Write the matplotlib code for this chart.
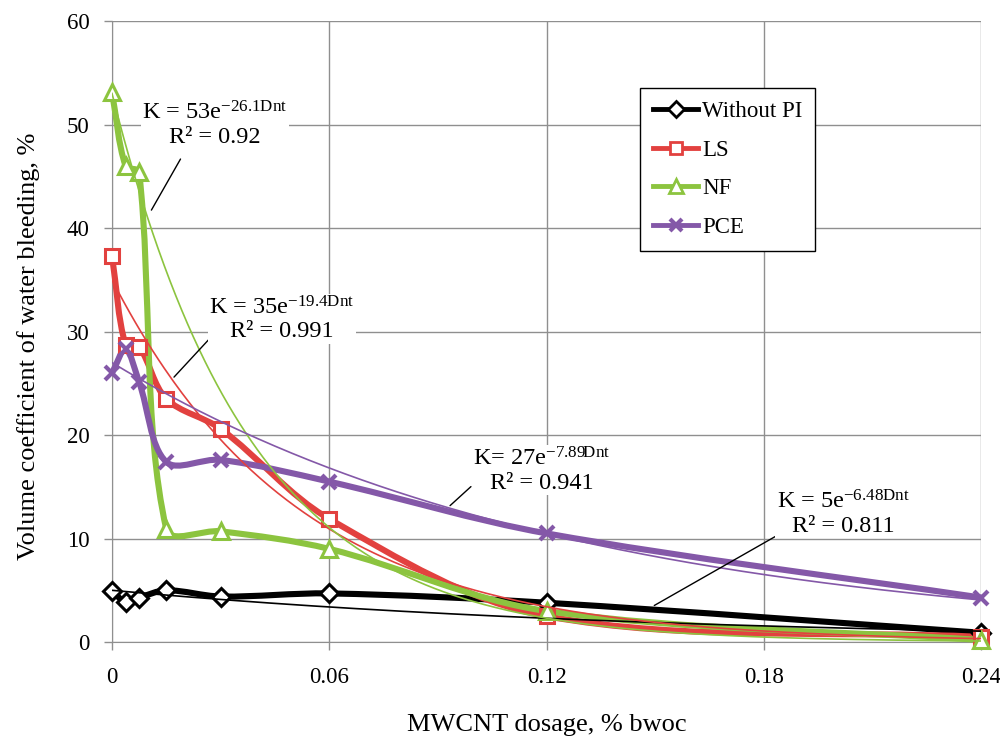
import numpy as np
import matplotlib
matplotlib.use("Agg")
import matplotlib.pyplot as plt
from matplotlib.path import Path
from matplotlib.patches import PathPatch
from matplotlib.lines import Line2D

# ── data ────────────────────────────────────────────────────────────────────
dosage = [0, 0.00375, 0.0075, 0.015, 0.03, 0.06, 0.12, 0.24]
without_pi = [4.9, 3.9, 4.3, 5.0, 4.4, 4.7, 3.8, 0.9]
ls_vals = [37.3, 28.7, 28.5, 23.5, 20.6, 11.9, 2.5, 0.5]
nf_vals = [53.1, 46.0, 45.4, 10.9, 10.7, 9.0, 3.0, 0.2]
pce_vals = [26.0, 28.3, 25.1, 17.4, 17.6, 15.5, 10.5, 4.3]

series_names = ["Without PI", "LS", "NF", "PCE"]

# exponential trend lines K = a * exp(b * Dnt)
trend_a = [5, 35, 53, 27]
trend_b = [-6.48, -19.4, -26.1, -7.89]
trend_r2 = ["0.811", "0.991", "0.92", "0.941"]

xticks = [0, 0.06, 0.12, 0.18, 0.24]
xtick_labels = ["0", "0.06", "0.12", "0.18", "0.24"]
yticks = [0, 10, 20, 30, 40, 50, 60]

colors = ["#000000", "#E2413F", "#8CC43F", "#8458A8"]
markers = ["D", "s", "^", "x"]
msizes = [9, 10, 11, 10]

plt.rcParams["font.family"] = ["Liberation Serif", "DejaVu Serif"]
plt.rcParams["mathtext.fontset"] = "custom"
plt.rcParams["mathtext.rm"] = "Liberation Serif"
plt.rcParams["mathtext.it"] = "Liberation Serif:italic"
FS = 16.5        # ticks, legend
FS_TITLE = 19    # axis titles
FS_NOTE = 17.5   # trend labels
GRID = "#8f8f8f"


def excel_smooth(ax, xs, ys):
    """Bezier path through the points, built in screen space like Excel's smoothed line."""
    pts = ax.transData.transform(np.column_stack([xs, ys]))
    n = len(pts)
    verts, codes = [pts[0]], [Path.MOVETO]
    for i in range(n - 1):
        p0, p1 = pts[max(i - 1, 0)], pts[i]
        p2, p3 = pts[i + 1], pts[min(i + 2, n - 1)]
        d01 = np.hypot(*(p1 - p0))
        d12 = np.hypot(*(p2 - p1))
        d23 = np.hypot(*(p3 - p2))
        c1 = p1 + (p2 - p0) * d12 / max(d01 + d12, 1e-9) / 3
        c2 = p2 - (p3 - p1) * d12 / max(d12 + d23, 1e-9) / 3
        verts += [c1, c2, p2]
        codes += [Path.CURVE4] * 3
    return Path(ax.transData.inverted().transform(np.array(verts)), codes)


fig = plt.figure(figsize=(10, 7.38), dpi=100)
ax = fig.add_axes([0.112, 0.130, 0.869, 0.8415])
ax.set_xlim(0, 0.24)
ax.set_ylim(0, 60)

all_series = [without_pi, ls_vals, nf_vals, pce_vals]

# thick smoothed data lines + open markers
for vals, col, mk, ms in zip(all_series, colors, markers, msizes):
    ax.add_patch(PathPatch(excel_smooth(ax, dosage, vals), facecolor="none",
                           edgecolor=col, lw=4.4, capstyle="round",
                           joinstyle="round", zorder=3, clip_on=False))
    ax.plot(dosage, vals, ls="none", marker=mk, ms=ms, mfc="white", mec=col,
            mew=3 if mk == "x" else 2.2, zorder=4, clip_on=False)

# thin exponential trend lines
xf = np.linspace(0, 0.24, 300)
for a, b, col in zip(trend_a, trend_b, colors):
    ax.plot(xf, a * np.exp(b * xf), color=col, lw=1.2, zorder=5)

# trend labels + leader lines
labels = [
    (r"K = 5e$^{\mathregular{-6.48Dnt}}$", (0.2020, 12.4), (0.1847, 10.5), (0.1491, 3.4)),
    (r"K = 35e$^{\mathregular{-19.4Dnt}}$", (0.0469, 31.2), (0.0293, 30.2), (0.0166, 25.4)),
    (r"K = 53e$^{\mathregular{-26.1Dnt}}$", (0.0284, 50.0), (0.0193, 46.9), (0.0105, 41.5)),
    (r"K= 27e$^{\mathregular{-7.89Dnt}}$", (0.1187, 16.6), (0.0997, 15.2), (0.0928, 13.0)),
]
for (txt, pos, start, end), r2 in zip(labels, trend_r2):
    ax.annotate("", xy=end, xytext=start,
                arrowprops=dict(arrowstyle="-", color="black", lw=1.0), zorder=6)
    ax.text(pos[0], pos[1], txt + "\n" + "R\u00b2 = " + r2, ha="center", va="center",
            fontsize=FS_NOTE, linespacing=1.15, zorder=7, multialignment="center",
            bbox=dict(facecolor="white", edgecolor="none", pad=1))

# axes styling
ax.set_xticks(xticks)
ax.set_xticklabels(xtick_labels)
ax.set_yticks(yticks)
ax.grid(True, color=GRID, lw=1.0, zorder=0)
ax.set_axisbelow(True)
for side in ["top", "right"]:
    ax.spines[side].set_visible(False)
for side in ["left", "bottom"]:
    ax.spines[side].set_color(GRID)
ax.tick_params(axis="both", colors=GRID, length=6, width=1.0, labelsize=FS,
               labelcolor="black")
ax.tick_params(axis="x", pad=12)
ax.tick_params(axis="y", pad=10)
ax.set_xlabel("MWCNT dosage, % bwoc", fontsize=FS_TITLE, va="center")
ax.set_ylabel("Volume coefficient of water bleeding, %", fontsize=FS_TITLE, va="center")
ax.xaxis.set_label_coords(0.5, -0.133)
ax.yaxis.set_label_coords(-0.096, 0.477)

handles = [Line2D([], [], color=c, lw=3.5, marker=m, ms=ms - 1, mfc="white", mec=c,
                  mew=3 if m == "x" else 2)
           for c, m, ms in zip(colors, markers, msizes)]
leg = ax.legend(handles, series_names, loc="upper left",
                bbox_to_anchor=(0.640, 1 - 88 / 738), bbox_transform=fig.transFigure,
                borderaxespad=0, fontsize=FS, frameon=True, fancybox=False,
                edgecolor="black", framealpha=1, handlelength=2.0,
                handletextpad=0.15, labelspacing=0.78, borderpad=0.55)
leg.get_frame().set_linewidth(1.0)
leg.set_zorder(10)

fig.savefig("out.png", dpi=100)
